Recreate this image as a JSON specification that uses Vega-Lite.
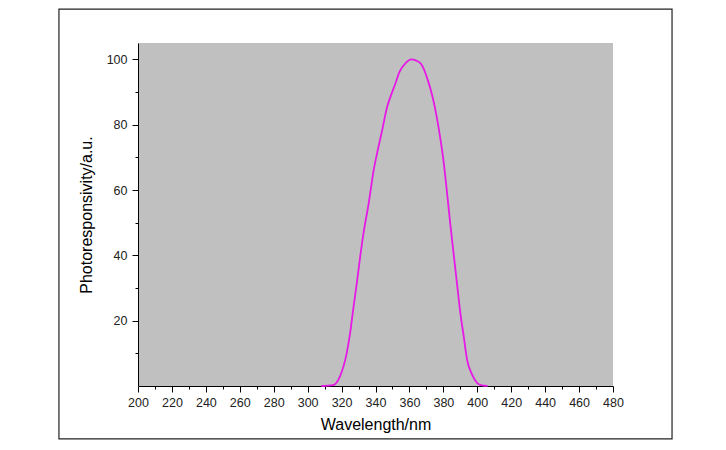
{
  "$schema": "https://vega.github.io/schema/vega-lite/v6.json",
  "autosize": "none",
  "width": 475,
  "height": 343,
  "padding": {"left": 138, "top": 43, "right": 113, "bottom": 64},
  "background": "white",
  "config": {
    "view": {"fill": "#c0c0c0", "stroke": null},
    "font": "Liberation Sans",
    "axis": {
      "grid": false,
      "domainColor": "#000000",
      "tickColor": "#000000",
      "labelColor": "#222222",
      "titleColor": "#000000",
      "labelFont": "Liberation Sans",
      "titleFont": "Liberation Sans",
      "labelFontSize": 12.5,
      "titleFontSize": 16,
      "titleFontWeight": "normal",
      "labelOverlap": false
    }
  },
  "datasets": {
    "curve": [
      {"wavelength": 308, "response": 0},
      {"wavelength": 315, "response": 0.3},
      {"wavelength": 319, "response": 2.9},
      {"wavelength": 323, "response": 10},
      {"wavelength": 325, "response": 16},
      {"wavelength": 327, "response": 24},
      {"wavelength": 329, "response": 31.6},
      {"wavelength": 331, "response": 39.7},
      {"wavelength": 333, "response": 47},
      {"wavelength": 336, "response": 56},
      {"wavelength": 339, "response": 66.3},
      {"wavelength": 341, "response": 71.4},
      {"wavelength": 344, "response": 78.5},
      {"wavelength": 347, "response": 85.7},
      {"wavelength": 349, "response": 88.8},
      {"wavelength": 352, "response": 93},
      {"wavelength": 354, "response": 96},
      {"wavelength": 358, "response": 99},
      {"wavelength": 361, "response": 100},
      {"wavelength": 364, "response": 99.6},
      {"wavelength": 367, "response": 98.5},
      {"wavelength": 371, "response": 93.4},
      {"wavelength": 374, "response": 87.7},
      {"wavelength": 376, "response": 82.6},
      {"wavelength": 378, "response": 76.5},
      {"wavelength": 380, "response": 69.3},
      {"wavelength": 382, "response": 60},
      {"wavelength": 384, "response": 50},
      {"wavelength": 386, "response": 40.7},
      {"wavelength": 388, "response": 31.6},
      {"wavelength": 390, "response": 22.4},
      {"wavelength": 392, "response": 15.2},
      {"wavelength": 394, "response": 8},
      {"wavelength": 397, "response": 3.4},
      {"wavelength": 400, "response": 0.9},
      {"wavelength": 402, "response": 0.3},
      {"wavelength": 406, "response": 0}
    ],
    "frame": [{}]
  },
  "resolve": {"axis": {"x": "independent", "y": "independent"}},
  "layer": [
    {
      "data": {"name": "frame"},
      "mark": {"type": "rect", "fill": null, "fillOpacity": 0, "stroke": "#222222", "strokeWidth": 1.2, "clip": false},
      "encoding": {
        "x": {
          "datum": 153.4,
          "type": "quantitative",
          "axis": {
            "orient": "bottom",
            "values": [210, 230, 250, 270, 290, 310, 330, 350, 370, 390, 410, 430, 450, 470],
            "labels": false,
            "domain": false,
            "tickSize": 3,
            "title": null
          }
        },
        "x2": {"datum": 514.8},
        "y": {
          "datum": 115.4,
          "type": "quantitative",
          "axis": {
            "orient": "left",
            "values": [10, 30, 50, 70, 90],
            "labels": false,
            "domain": false,
            "tickSize": 3,
            "title": null
          }
        },
        "y2": {"datum": -16.2}
      }
    },
    {
      "data": {"name": "curve"},
      "mark": {"type": "line", "color": "#e619e6", "strokeWidth": 1.8, "interpolate": "monotone"},
      "encoding": {
        "x": {
          "field": "wavelength",
          "type": "quantitative",
          "scale": {"domain": [200, 480], "nice": false, "zero": false},
          "axis": {
            "orient": "bottom",
            "title": "Wavelength/nm",
            "values": [200, 220, 240, 260, 280, 300, 320, 340, 360, 380, 400, 420, 440, 460, 480],
            "labelOverlap": false,
            "labelFlush": false,
            "tickSize": 6,
            "labelPadding": 4,
            "titlePadding": 8
          }
        },
        "y": {
          "field": "response",
          "type": "quantitative",
          "scale": {"domain": [0, 105], "nice": false},
          "axis": {
            "orient": "left",
            "title": "Photoresponsivity/a.u.",
            "values": [20, 40, 60, 80, 100],
            "labelOverlap": false,
            "labelFlush": false,
            "tickSize": 6,
            "labelPadding": 5,
            "titlePadding": 12
          }
        }
      }
    }
  ]
}
